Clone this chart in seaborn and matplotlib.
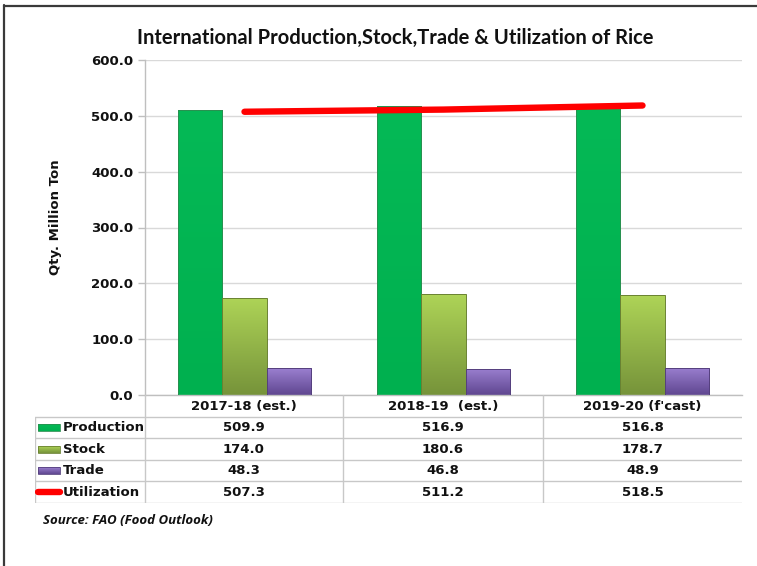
import numpy as np
import pandas as pd
import matplotlib
matplotlib.use("Agg")
import matplotlib.pyplot as plt
import seaborn as sns
from matplotlib.colors import LinearSegmentedColormap
from matplotlib.lines import Line2D
from matplotlib.patches import Rectangle

# ---------------- data ----------------
years = ["2017-18 (est.)", "2018-19  (est.)", "2019-20 (f'cast)"]
production = [509.9, 516.9, 516.8]
stock = [174.0, 180.6, 178.7]
trade = [48.3, 46.8, 48.9]
utilization = [507.3, 511.2, 518.5]
series_names = ["Production", "Stock", "Trade"]
line_name = "Utilization"
title = "International Production,Stock,Trade & Utilization of Rice"
ylabel = "Qty. Million Ton"
source = "Source: FAO (Food Outlook)"
yticks = [0, 100, 200, 300, 400, 500, 600]

# ---------------- style ----------------
sns.set_theme(style="white")
plt.rcParams['font.family'] = ['DejaVu Sans']

base_colors = {"Production": "#00b050", "Stock": "#92b840", "Trade": "#7658a8"}
grad_colors = {  # (top, bottom)
    "Production": ("#05b956", "#00b04f"),
    "Stock": ("#aed457", "#76933a"),
    "Trade": ("#9b80d0", "#5f4690"),
}
edge_colors = {"Production": "#2a9050", "Stock": "#6a8232", "Trade": "#55407e"}

W, H = 757, 566
fig = plt.figure(figsize=(W / 100, H / 100), dpi=100)
fig.patch.set_facecolor("white")


def px_axes(l, t, r, b):
    return fig.add_axes([l / W, 1 - b / H, (r - l) / W, (b - t) / H])


ax = px_axes(145, 60, 742, 395)

df = pd.DataFrame({
    "year": years * 3,
    "series": [s for s in series_names for _ in years],
    "value": production + stock + trade,
})

sns.barplot(data=df, x="year", y="value", hue="series", order=years,
            hue_order=series_names, palette=base_colors, width=0.67,
            saturation=1, legend=False, ax=ax)

# gradient fill for bars
grad = np.linspace(0, 1, 256).reshape(-1, 1)
for name, cont in zip(series_names, ax.containers):
    top, bot = grad_colors[name]
    cmap = LinearSegmentedColormap.from_list(name, [bot, top])
    for p in cont.patches:
        x0, y0, w, h = p.get_x(), p.get_y(), p.get_width(), p.get_height()
        im = ax.imshow(grad, cmap=cmap, extent=[x0, x0 + w, y0, y0 + h],
                       origin="lower", aspect="auto", interpolation="bilinear",
                       zorder=2)
        im.set_clip_path(p)
        p.set_facecolor("none")
        p.set_edgecolor(edge_colors[name])
        p.set_linewidth(0.7)
        p.set_zorder(3)

# utilization line
sns.pointplot(x=years, y=utilization, order=years, color="#ff0000",
              errorbar=None, ax=ax)
ln = ax.lines[-1]
ln.set_marker("")
ln.set_linewidth(4.6)
ln.set_solid_capstyle("round")
ln.set_zorder(5)

ax.set_xlim(-0.5, len(years) - 0.5)
ax.set_ylim(0, 600)
ax.set_yticks(yticks)
ax.set_yticklabels([f"{v:.1f}" for v in yticks], fontweight="bold",
                   fontsize=9.5, color="#111111")
ax.set_xticks([])
ax.set_xlabel("")
ax.set_ylabel(ylabel, fontweight="bold", fontsize=9.5, color="#111111")
ax.yaxis.set_label_coords(-0.139, 0.53)
ax.tick_params(axis="y", direction="out", length=5, width=1, color="#bfbfbf",
               pad=3.5, left=True)
ax.yaxis.grid(True, color="#d9d9d9", linewidth=1)
ax.set_axisbelow(True)
for s in ["top", "right"]:
    ax.spines[s].set_visible(False)
ax.spines["left"].set_color("#bfbfbf")
ax.spines["bottom"].set_color("#bfbfbf")
ax.spines["left"].set_linewidth(1)
ax.spines["bottom"].set_linewidth(1)

# ---------------- data table ----------------
tax = px_axes(35, 395, 742, 503)
tax.set_xlim(35, 742)
tax.set_ylim(503, 395)
tax.axis("off")

gcol = "#c8c8c8"
row_edges = [395, 416.5, 438, 459.5, 481, 502.5]
col_edges = [145, 343, 543, 742]
for y in row_edges[1:]:
    tax.plot([35, 742], [y, y], color=gcol, lw=1, solid_capstyle="butt")
for x in col_edges[:-1]:
    tax.plot([x, x], [395, 502.5], color=gcol, lw=1)
tax.plot([35, 35], [416.5, 502.5], color=gcol, lw=1)

centers = [(col_edges[i] + col_edges[i + 1]) / 2 for i in range(3)]
rcent = [(row_edges[i] + row_edges[i + 1]) / 2 for i in range(5)]
tfs = 9.5
for c, lab in zip(centers, years):
    tax.text(c, rcent[0] + 0.5, lab, ha="center", va="center",
             fontsize=tfs, fontweight="bold", color="#111111")

rows = [("Production", production), ("Stock", stock), ("Trade", trade),
        (line_name, utilization)]
for i, (name, vals) in enumerate(rows):
    yc = rcent[i + 1] + 0.5
    tax.text(62.5, yc, name, ha="left", va="center", fontsize=tfs,
             fontweight="bold", color="#111111")
    for c, v in zip(centers, vals):
        tax.text(c, yc, f"{v:.1f}", ha="center", va="center", fontsize=tfs,
                 fontweight="bold", color="#111111")
    if name in grad_colors:
        top, bot = grad_colors[name]
        cmap = LinearSegmentedColormap.from_list(name + "k", [bot, top])
        kt, kb = yc - 3.5, yc + 3.5
        im = tax.imshow(grad, cmap=cmap, extent=[38, 60, kb, kt],
                        origin="lower", aspect="auto", zorder=2)
        r = Rectangle((38, kt), 22, 7, facecolor="none",
                      edgecolor=edge_colors[name], lw=0.6, zorder=3)
        tax.add_patch(r)
        im.set_clip_path(r)
    else:
        tax.plot([38, 60], [yc, yc], color="#ff0000", lw=4.6,
                 solid_capstyle="round")
tax.set_xlim(35, 742)
tax.set_ylim(503, 395)

# ---------------- texts ----------------
fig.text(395 / W, 1 - 38 / H, title, ha="center", va="center",
         fontsize=14.5, fontweight="bold", color="#111111",
         family=["Lato", "DejaVu Sans"])
fig.text(43 / W, 1 - 521 / H, source, ha="left", va="center",
         fontsize=9.5, fontweight="bold", style="italic", color="#111111",
         family=["Open Sans", "DejaVu Sans"])

# frame lines (left and top)
fig.add_artist(Line2D([3.5 / W, 3.5 / W], [0, 1 - 5 / H],
                      transform=fig.transFigure, color="#3a3a3a", lw=1.6))
fig.add_artist(Line2D([3.5 / W, 1], [1 - 5.5 / H, 1 - 5.5 / H],
                      transform=fig.transFigure, color="#3a3a3a", lw=1.6))

fig.savefig("out.png", dpi=100, facecolor="white")
